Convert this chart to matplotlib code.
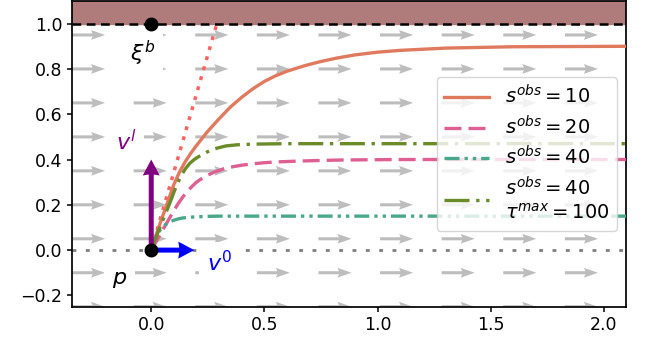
import numpy as np
import matplotlib
matplotlib.use("Agg")
import matplotlib.pyplot as plt

x_s10 = [0, 0.02, 0.04, 0.07, 0.1, 0.125, 0.15, 0.175, 0.2, 0.25, 0.3, 0.35, 0.4,
         0.45, 0.5, 0.55, 0.6, 0.68, 0.75, 0.82, 0.9, 1.0, 1.1, 1.3, 1.6, 2.1]
y_s10 = [0, 0.062, 0.12, 0.205, 0.29, 0.345, 0.39, 0.428, 0.462, 0.525, 0.58,
         0.632, 0.675, 0.713, 0.745, 0.77, 0.79, 0.815, 0.833, 0.848, 0.862,
         0.874, 0.882, 0.892, 0.898, 0.9]

x_s20 = [0, 0.02, 0.04, 0.06, 0.08, 0.1, 0.12, 0.14, 0.16, 0.18, 0.2, 0.225,
         0.25, 0.28, 0.32, 0.36, 0.4, 0.45, 0.5, 0.57, 0.65, 0.75, 0.85, 1.1, 2.1]
y_s20 = [0, 0.035, 0.07, 0.105, 0.14, 0.175, 0.207, 0.235, 0.26, 0.281, 0.3,
         0.317, 0.331, 0.345, 0.359, 0.368, 0.375, 0.381, 0.386, 0.39, 0.393,
         0.396, 0.398, 0.4, 0.4]

x_s40 = [0, 0.01, 0.02, 0.03, 0.04, 0.05, 0.06, 0.07, 0.085, 0.1, 0.12, 0.14,
         0.17, 0.2, 0.25, 0.3, 0.4, 2.1]
y_s40 = [0, 0.032, 0.056, 0.075, 0.09, 0.1, 0.11, 0.118, 0.126, 0.132, 0.138,
         0.142, 0.145, 0.147, 0.149, 0.15, 0.15, 0.15]

x_s40_tau = [0, 0.02, 0.04, 0.065, 0.085, 0.1, 0.115, 0.13, 0.15, 0.17, 0.19,
             0.21, 0.235, 0.26, 0.29, 0.33, 0.38, 0.45, 0.6, 2.1]
y_s40_tau = [0, 0.053, 0.105, 0.165, 0.215, 0.255, 0.292, 0.325, 0.358, 0.383,
             0.4, 0.413, 0.427, 0.44, 0.45, 0.46, 0.465, 0.468, 0.47, 0.47]

# initial heading, clipped at the boundary
x_tan = [0, 0.29]
y_tan = [0, 1.0]

# vectors at p
v_l = (0, 0.4)
v_0 = (0.19, 0)

p = (0, 0)
xi_b = (0, 1.0)
boundary = 1.0

labels = [r"$s^{obs}=10$", r"$s^{obs}=20$", r"$s^{obs}=40$",
          "$s^{obs}=40$\n" + r"$\tau^{max}=100$"]

xlim = (-0.35, 2.1)
ylim = (-0.25, 1.1)

plt.rcParams["font.size"] = 12.5

fig = plt.figure(figsize=(6.46, 3.47), dpi=100)
ax = fig.add_axes([0.1115, 0.1161, 0.8583, 0.8810])

# background flow field
gx, gy = np.meshgrid(np.linspace(*xlim, 10), np.linspace(*ylim, 10))
ax.quiver(gx, gy, np.ones_like(gx), np.zeros_like(gy), color="#bdbdbd",
          angles="xy", scale_units="x", scale=6.85, width=0.0055,
          headwidth=3.2, headlength=4.6, headaxislength=4.1, zorder=1)

ax.axhspan(boundary, ylim[1], color="#af7b7b", zorder=2)
ax.axhline(boundary, color="black", lw=1.8, ls=(0, (3.5, 2.2)), zorder=3)
ax.axhline(0, color="gray", lw=2, ls=(0, (1.4, 3.4)), zorder=1.5)

ax.plot(x_tan, y_tan, color="#ff6262", lw=2.5, ls=(0, (1.1, 1.9)), zorder=3)

ax.plot(x_s10, y_s10, color="#e07a5f", lw=2.4, label=labels[0], zorder=3)
ax.plot(x_s20, y_s20, color="#de5f92", lw=2.4, ls=(0, (5.1, 2.1)),
        label=labels[1], zorder=3)
ax.plot(x_s40, y_s40, color="#4aa88a", lw=2.4,
        ls=(0, (4.5, 1.5, 1, 1.5, 1, 1.5)), label=labels[2], zorder=3)
ax.plot(x_s40_tau, y_s40_tau, color="#6b8a2a", lw=2.4, ls=(0, (7.5, 2, 1, 2)),
        label=labels[3], zorder=3)

ax.quiver([p[0]], [p[1]], [v_l[0]], [v_l[1]], color="purple", angles="xy",
          scale_units="xy", scale=1, width=0.009, headwidth=3.4,
          headlength=3.2, headaxislength=3, zorder=4)
ax.quiver([p[0]], [p[1]], [v_0[0]], [v_0[1]], color="blue", angles="xy",
          scale_units="xy", scale=1, width=0.009, headwidth=3.4,
          headlength=3.2, headaxislength=3, zorder=4)

ax.plot(*p, "o", color="black", ms=9, zorder=5)
ax.plot(*xi_b, "o", color="black", ms=9, zorder=5)

box = dict(boxstyle="square,pad=0.35", fc="white", ec="none")
ax.text(-0.04, 0.87, r"$\xi^b$", fontsize=16, ha="center", va="center",
        bbox=box, zorder=2.5)
ax.text(-0.11, 0.48, r"$v^l$", fontsize=16, color="purple", ha="center",
        va="center", bbox=box, zorder=2.5)
ax.text(0.3, -0.055, r"$v^0$", fontsize=16, color="blue", ha="center",
        va="center", bbox=box, zorder=2.5)
ax.text(-0.14, -0.13, r"$p$", fontsize=16, ha="center", va="center",
        bbox=box, zorder=2.5)

ax.set_xlim(*xlim)
ax.set_ylim(*ylim)
ax.set_xticks([0, 0.5, 1.0, 1.5, 2.0])
ax.set_yticks([-0.2, 0, 0.2, 0.4, 0.6, 0.8, 1.0])
for s in ax.spines.values():
    s.set_linewidth(1.25)
ax.tick_params(width=1.1)

ax.legend(loc="upper right", bbox_to_anchor=(0.983, 0.752), borderaxespad=0,
          handlelength=2.3, fontsize=14, labelspacing=0.38)

fig.savefig("out.png", dpi=100)
